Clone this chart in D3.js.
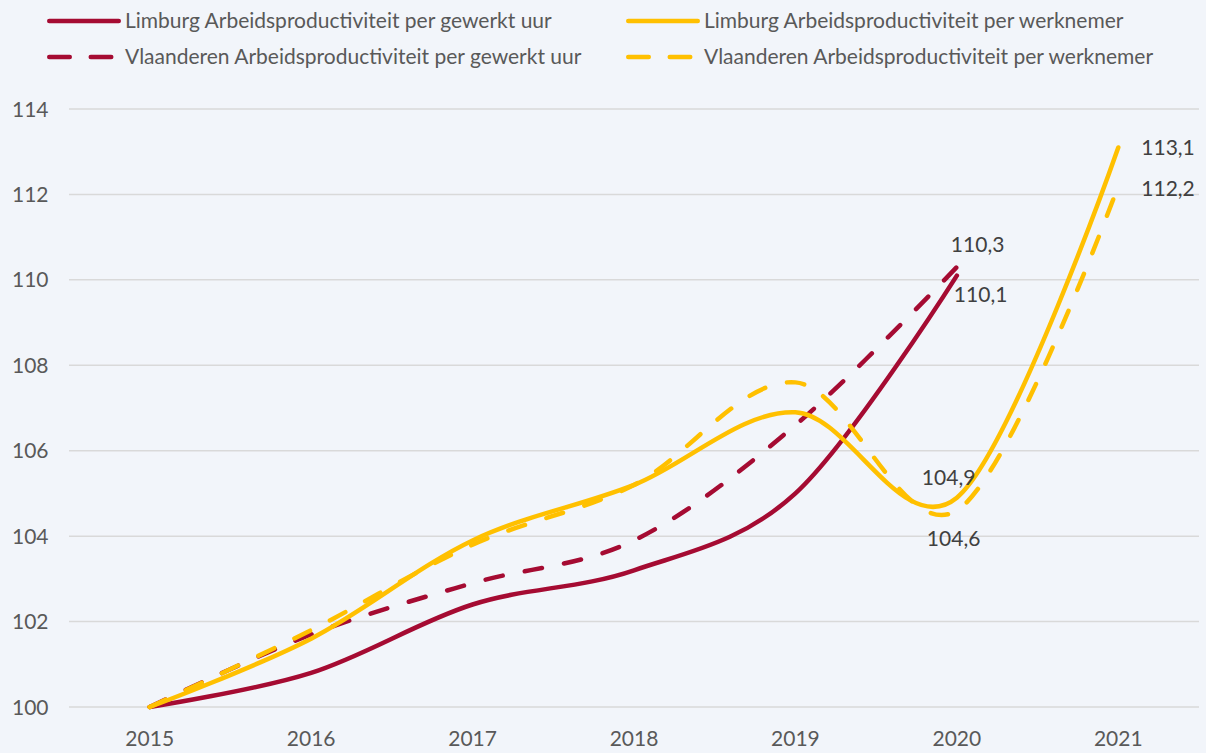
<!DOCTYPE html>
<html>
<head>
<meta charset="utf-8">
<script src="https://cdn.jsdelivr.net/npm/d3@7"></script>
<style>
  body { margin: 0; background: #f2f5fa; }
  svg { display: block; font-family: Lato, "Open Sans", sans-serif; }
</style>
</head>
<body>
<script>
// categories and series
const years = ["2015", "2016", "2017", "2018", "2019", "2020", "2021"];
const limburgUur = [100, 100.8, 102.4, 103.2, 105.0, 110.1];
const vlaanderenUur = [100, 101.7, 102.9, 103.9, 106.6, 110.3];
const limburgWerknemer = [100, 101.6, 103.9, 105.2, 106.9, 104.9, 113.1];
const vlaanderenWerknemer = [100, 101.8, 103.8, 105.2, 107.6, 104.6, 112.2];
const yTicks = [100, 102, 104, 106, 108, 110, 112, 114];

const width = 1206, height = 753;
const red = "#a50b32", yellow = "#ffc000";

const svg = d3.select("body").append("svg")
    .attr("width", width)
    .attr("height", height);

svg.append("rect").attr("width", width).attr("height", height).attr("fill", "#f2f5fa");

// scales
const x = d3.scaleBand()
    .domain(years)
    .range([69, 1199]);
const y = d3.scaleLinear()
    .domain([100, 114])
    .range([707, 109]);

// gridlines
svg.append("g")
    .selectAll("line")
    .data(yTicks)
    .enter()
    .append("line")
    .attr("x1", 69).attr("x2", 1199)
    .attr("y1", d => y(d)).attr("y2", d => y(d))
    .attr("stroke", "#d9d9d9")
    .attr("stroke-width", 1.5);

// y labels
svg.append("g")
    .selectAll("text")
    .data(yTicks)
    .enter()
    .append("text")
    .attr("x", 12)
    .attr("y", d => y(d) + 7.5)
    .attr("fill", "#595959")
    .style("font-size", "21px")
    .text(d => d);

// x labels
svg.append("g")
    .selectAll("text")
    .data(years)
    .enter()
    .append("text")
    .attr("x", d => x(d) + x.bandwidth() / 2)
    .attr("y", 746)
    .attr("text-anchor", "middle")
    .attr("fill", "#595959")
    .style("font-size", "21px")
    .text(d => d);

const series = [
    { name: "Limburg Arbeidsproductiviteit per gewerkt uur", values: limburgUur, color: red, dash: null },
    { name: "Limburg Arbeidsproductiviteit per werknemer", values: limburgWerknemer, color: yellow, dash: null },
    { name: "Vlaanderen Arbeidsproductiviteit per gewerkt uur", values: vlaanderenUur, color: red, dash: "17.5,22.5" },
    { name: "Vlaanderen Arbeidsproductiviteit per werknemer", values: vlaanderenWerknemer, color: yellow, dash: "17.5,22.5" }
];

const line = d3.line()
    .x((d, i) => x(years[i]) + x.bandwidth() / 2)
    .y(d => y(d))
    .curve(d3.curveCardinal.tension(0));

// red below yellow, dashed below solid
const drawOrder = [2, 0, 3, 1];
drawOrder.forEach(k => {
    const s = series[k];
    svg.append("path")
        .datum(s.values)
        .attr("d", line)
        .attr("fill", "none")
        .attr("stroke", s.color)
        .attr("stroke-width", 4.5)
        .attr("stroke-linecap", "round")
        .attr("stroke-dasharray", s.dash);
});

// data labels
const labels = [
    { values: vlaanderenUur, idx: 5, dx: -6, dy: -15 },
    { values: limburgUur, idx: 5, dx: -3, dy: 26 },
    { values: limburgWerknemer, idx: 6, dx: 23, dy: 8 },
    { values: vlaanderenWerknemer, idx: 6, dx: 23, dy: 10 },
    { values: limburgWerknemer, idx: 5, dx: -35, dy: -13 },
    { values: vlaanderenWerknemer, idx: 5, dx: -30, dy: 35 }
];
svg.append("g")
    .selectAll("text")
    .data(labels)
    .enter()
    .append("text")
    .attr("x", d => x(years[d.idx]) + x.bandwidth() / 2 + d.dx)
    .attr("y", d => y(d.values[d.idx]) + d.dy)
    .attr("fill", "#404040")
    .style("font-size", "21px")
    .text(d => d3.format(".1f")(d.values[d.idx]).replace(".", ","));

// legend
const legendPos = [
    { x: 0, y: 21 }, { x: 579, y: 21 },
    { x: 0, y: 57 }, { x: 579, y: 57 }
];
const legend = svg.append("g")
    .selectAll("g")
    .data(series)
    .enter()
    .append("g")
    .attr("transform", (d, i) => `translate(${legendPos[i].x},${legendPos[i].y})`);

legend.append("line")
    .attr("x1", 49.25)
    .attr("x2", d => d.dash ? 111.25 : 118.75)
    .attr("y1", 0).attr("y2", 0)
    .attr("stroke", d => d.color)
    .attr("stroke-width", 4.5)
    .attr("stroke-linecap", "round")
    .attr("stroke-dasharray", d => d.dash ? "20.5,21" : null);

legend.append("text")
    .attr("x", 125)
    .attr("y", 6.5)
    .attr("fill", "#595959")
    .style("font-size", "21px")
    .text(d => d.name);
</script>
</body>
</html>
